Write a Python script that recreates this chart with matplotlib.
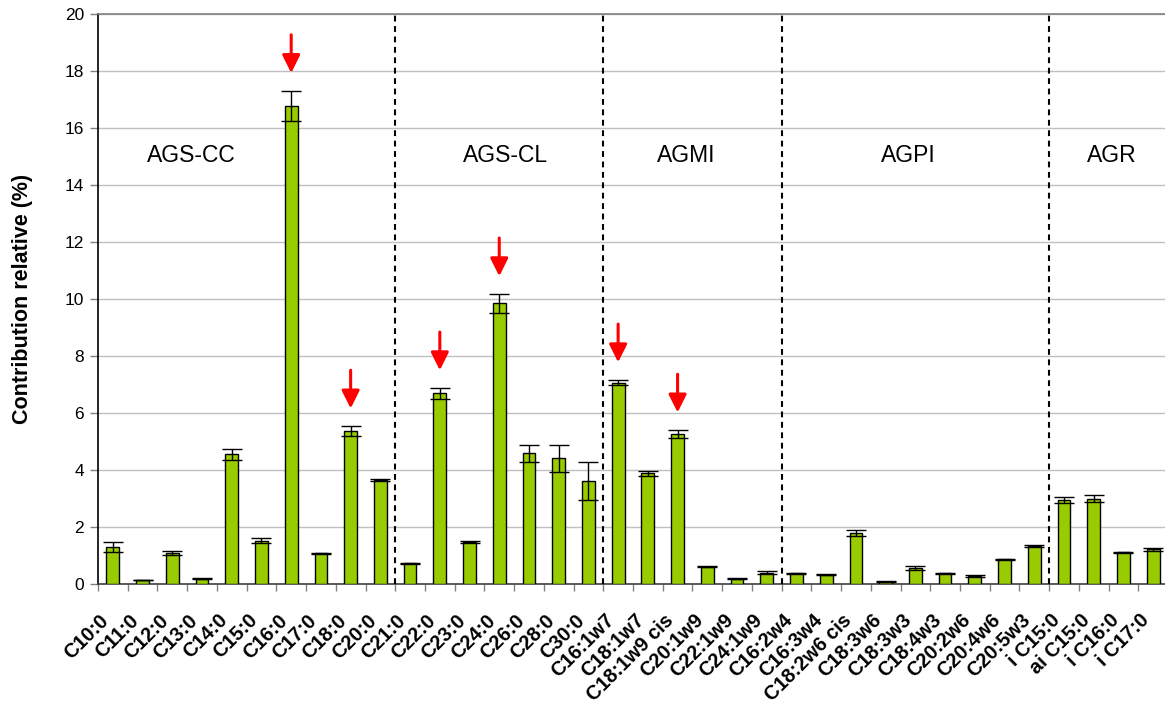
import matplotlib
matplotlib.use("Agg")
import matplotlib.pyplot as plt
import numpy as np
from matplotlib.patches import ArrowStyle
from matplotlib.transforms import ScaledTranslation

plt.rcParams['font.family'] = ['Liberation Sans', 'DejaVu Sans']

categories = ["C10:0", "C11:0", "C12:0", "C13:0", "C14:0", "C15:0", "C16:0", "C17:0",
              "C18:0", "C20:0",
              "C21:0", "C22:0", "C23:0", "C24:0", "C26:0", "C28:0", "C30:0",
              "C16:1w7", "C18:1w7", "C18:1w9 cis", "C20:1w9", "C22:1w9", "C24:1w9",
              "C16:2w4", "C16:3w4", "C18:2w6 cis", "C18:3w6", "C18:3w3", "C18:4w3",
              "C20:2w6", "C20:4w6", "C20:5w3",
              "i C15:0", "ai C15:0", "i C16:0", "i C17:0"]

values = [1.29, 0.14, 1.09, 0.19, 4.55, 1.52, 16.77, 1.08, 5.36, 3.65,
          0.73, 6.69, 1.47, 9.85, 4.59, 4.41, 3.60,
          7.07, 3.88, 5.26, 0.61, 0.19, 0.39,
          0.37, 0.33, 1.80, 0.08, 0.56, 0.37, 0.28, 0.87, 1.33,
          2.94, 2.99, 1.12, 1.22]

errors = [0.18, 0.01, 0.08, 0.02, 0.19, 0.09, 0.54, 0.02, 0.18, 0.02,
          0.02, 0.19, 0.03, 0.33, 0.30, 0.48, 0.67,
          0.09, 0.10, 0.14, 0.02, 0.01, 0.05,
          0.01, 0.02, 0.10, 0.01, 0.06, 0.01, 0.02, 0.02, 0.03,
          0.10, 0.13, 0.02, 0.05]

group_names = ["AGS-CC", "AGS-CL", "AGMI", "AGPI", "AGR"]
group_sizes = [10, 7, 6, 9, 4]

highlighted = ["C16:0", "C18:0", "C22:0", "C24:0", "C16:1w7", "C18:1w9 cis"]

W, H = 1165, 707
fig = plt.figure(figsize=(W / 100, H / 100), dpi=100)
ax = fig.add_axes([98 / W, (H - 584) / H, 1070 / W, 570 / H])

x = np.arange(len(categories))
ax.bar(x, values, width=0.43, color='#99CC00', edgecolor='black', linewidth=1.0, zorder=3)
ax.errorbar(x, values, yerr=errors, fmt='none', ecolor='black', elinewidth=1.0,
            capsize=7.5, capthick=1.0, zorder=4)

ax.set_xlim(-0.5, len(categories) - 0.5)
ax.set_ylim(0, 20)
ax.set_yticks(np.arange(0, 21, 2))
ax.yaxis.grid(True, color='#C0C0C0', linewidth=1.0, zorder=0)
ax.set_axisbelow(True)

ax.set_xticks(x)
ax.set_xticklabels(categories, rotation=45, ha='right', va='center',
                   rotation_mode='anchor', fontsize=14.3, fontweight='bold')
ax.tick_params(axis='x', which='major', length=0, pad=24)
ax.set_xticks(np.arange(-0.5, len(categories), 1), minor=True)
ax.tick_params(axis='x', which='minor', length=5, color='#808080', width=1.0)
ax.tick_params(axis='y', length=6, color='#808080', width=1.0, labelsize=12.5, pad=4)

offset = ScaledTranslation(-0.07, 0, fig.dpi_scale_trans)
for lbl in ax.get_xticklabels():
    lbl.set_transform(lbl.get_transform() + offset)

ax.spines['left'].set_color('black')
ax.spines['left'].set_linewidth(1.2)
ax.spines['bottom'].set_color('#404040')
ax.spines['bottom'].set_linewidth(1.2)
ax.spines['top'].set_color('#808080')
ax.spines['top'].set_linewidth(1.2)
ax.spines['right'].set_visible(False)

ax.set_ylabel("Contribution relative (%)", fontsize=15.5, fontweight='bold', labelpad=23)

# group separators
bounds = np.cumsum(group_sizes)[:-1] - 0.5
for b in bounds:
    ax.plot([b, b], [0, 20], color='black', linewidth=1.5,
            linestyle=(0, (2.8, 2.2)), zorder=5, clip_on=False)

# group labels
label_x = [2.63, 13.2, 19.3, 26.75, 33.6]
for name, gx in zip(group_names, label_x):
    ax.text(gx, 15.05, name, ha='center', va='center', fontsize=16.5)

# red arrows
style = ArrowStyle('-|>', head_length=1.0, head_width=0.5)
for cat in highlighted:
    i = categories.index(cat)
    tip = values[i] + errors[i] + 0.62
    ax.annotate('', xy=(i, tip), xytext=(i, tip + 1.34),
                arrowprops=dict(arrowstyle=style, color='red', lw=2.2,
                                mutation_scale=10.8, shrinkA=0, shrinkB=0),
                zorder=6)

fig.savefig("out.png", dpi=100)
